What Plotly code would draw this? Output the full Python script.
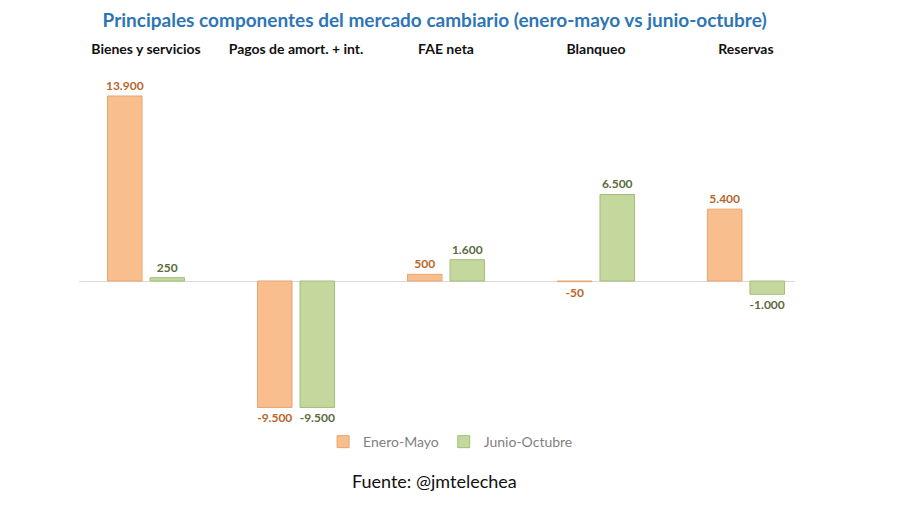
import plotly.graph_objects as go

# Data
categorias = ["Bienes y servicios", "Pagos de amort. + int.", "FAE neta", "Blanqueo", "Reservas"]
enero_mayo = [13900, -9500, 500, -50, 5400]
junio_octubre = [250, -9500, 1600, 6500, -1000]
etiquetas_em = ["13.900", "-9.500", "500", "-50", "5.400"]
etiquetas_jo = ["250", "-9.500", "1.600", "6.500", "-1.000"]

x_pos = list(range(len(categorias)))

fig = go.Figure()

fig.add_trace(go.Bar(
    x=x_pos,
    y=enero_mayo,
    name="Enero-Mayo",
    marker=dict(color="#F8BE8E", line=dict(color="#EBA46E", width=1)),
    text=etiquetas_em,
    textposition="outside",
    constraintext="none",
    textfont=dict(family="Lato", size=12, color="#B8662A", weight="bold"),
    cliponaxis=False
))

fig.add_trace(go.Bar(
    x=x_pos,
    y=junio_octubre,
    name="Junio-Octubre",
    marker=dict(color="#C4D89E", line=dict(color="#A3BE78", width=1)),
    text=etiquetas_jo,
    textposition="outside",
    constraintext="none",
    textfont=dict(family="Lato", size=12, color="#5B6B3C", weight="bold"),
    cliponaxis=False
))

fig.update_layout(
    width=900,
    height=505,
    margin=dict(l=71, r=113, t=54, b=88),
    paper_bgcolor="white",
    plot_bgcolor="white",
    barmode="group",
    bargap=0.433,
    bargroupgap=0.188,
    font=dict(family="Lato"),
    title=dict(
        text="<b>Principales componentes del mercado cambiario (enero-mayo vs junio-octubre)</b>",
        x=0.474, xanchor="center", y=0.975, yanchor="middle",
        font=dict(family="Lato", size=19, color="#2E75B6")
    ),
    xaxis=dict(
        side="top",
        tickmode="array",
        tickvals=x_pos,
        ticktext=["<b>" + c + "</b>" for c in categorias],
        tickfont=dict(family="Lato", size=14, color="#111111"),
        range=[-0.447, 4.327],
        showgrid=False,
        zeroline=False,
        showline=False,
        ticks="",
        ticklabelstandoff=4
    ),
    yaxis=dict(
        range=[-10819, 16454],
        showgrid=False,
        showticklabels=False,
        zeroline=True,
        zerolinecolor="#D9D9D9",
        zerolinewidth=1
    ),
    legend=dict(
        orientation="h",
        x=0.519, xanchor="center",
        y=-0.047, yanchor="middle",
        font=dict(family="Lato", size=14, color="#7F7F7F"),
        itemwidth=30
    ),
    annotations=[dict(
        text="Fuente: @jmtelechea",
        x=0.496, y=-0.154, xref="paper", yref="paper",
        xanchor="center", yanchor="middle",
        showarrow=False,
        font=dict(family="Lato", size=18, color="#111111")
    )]
)

fig.write_html("out.html")
